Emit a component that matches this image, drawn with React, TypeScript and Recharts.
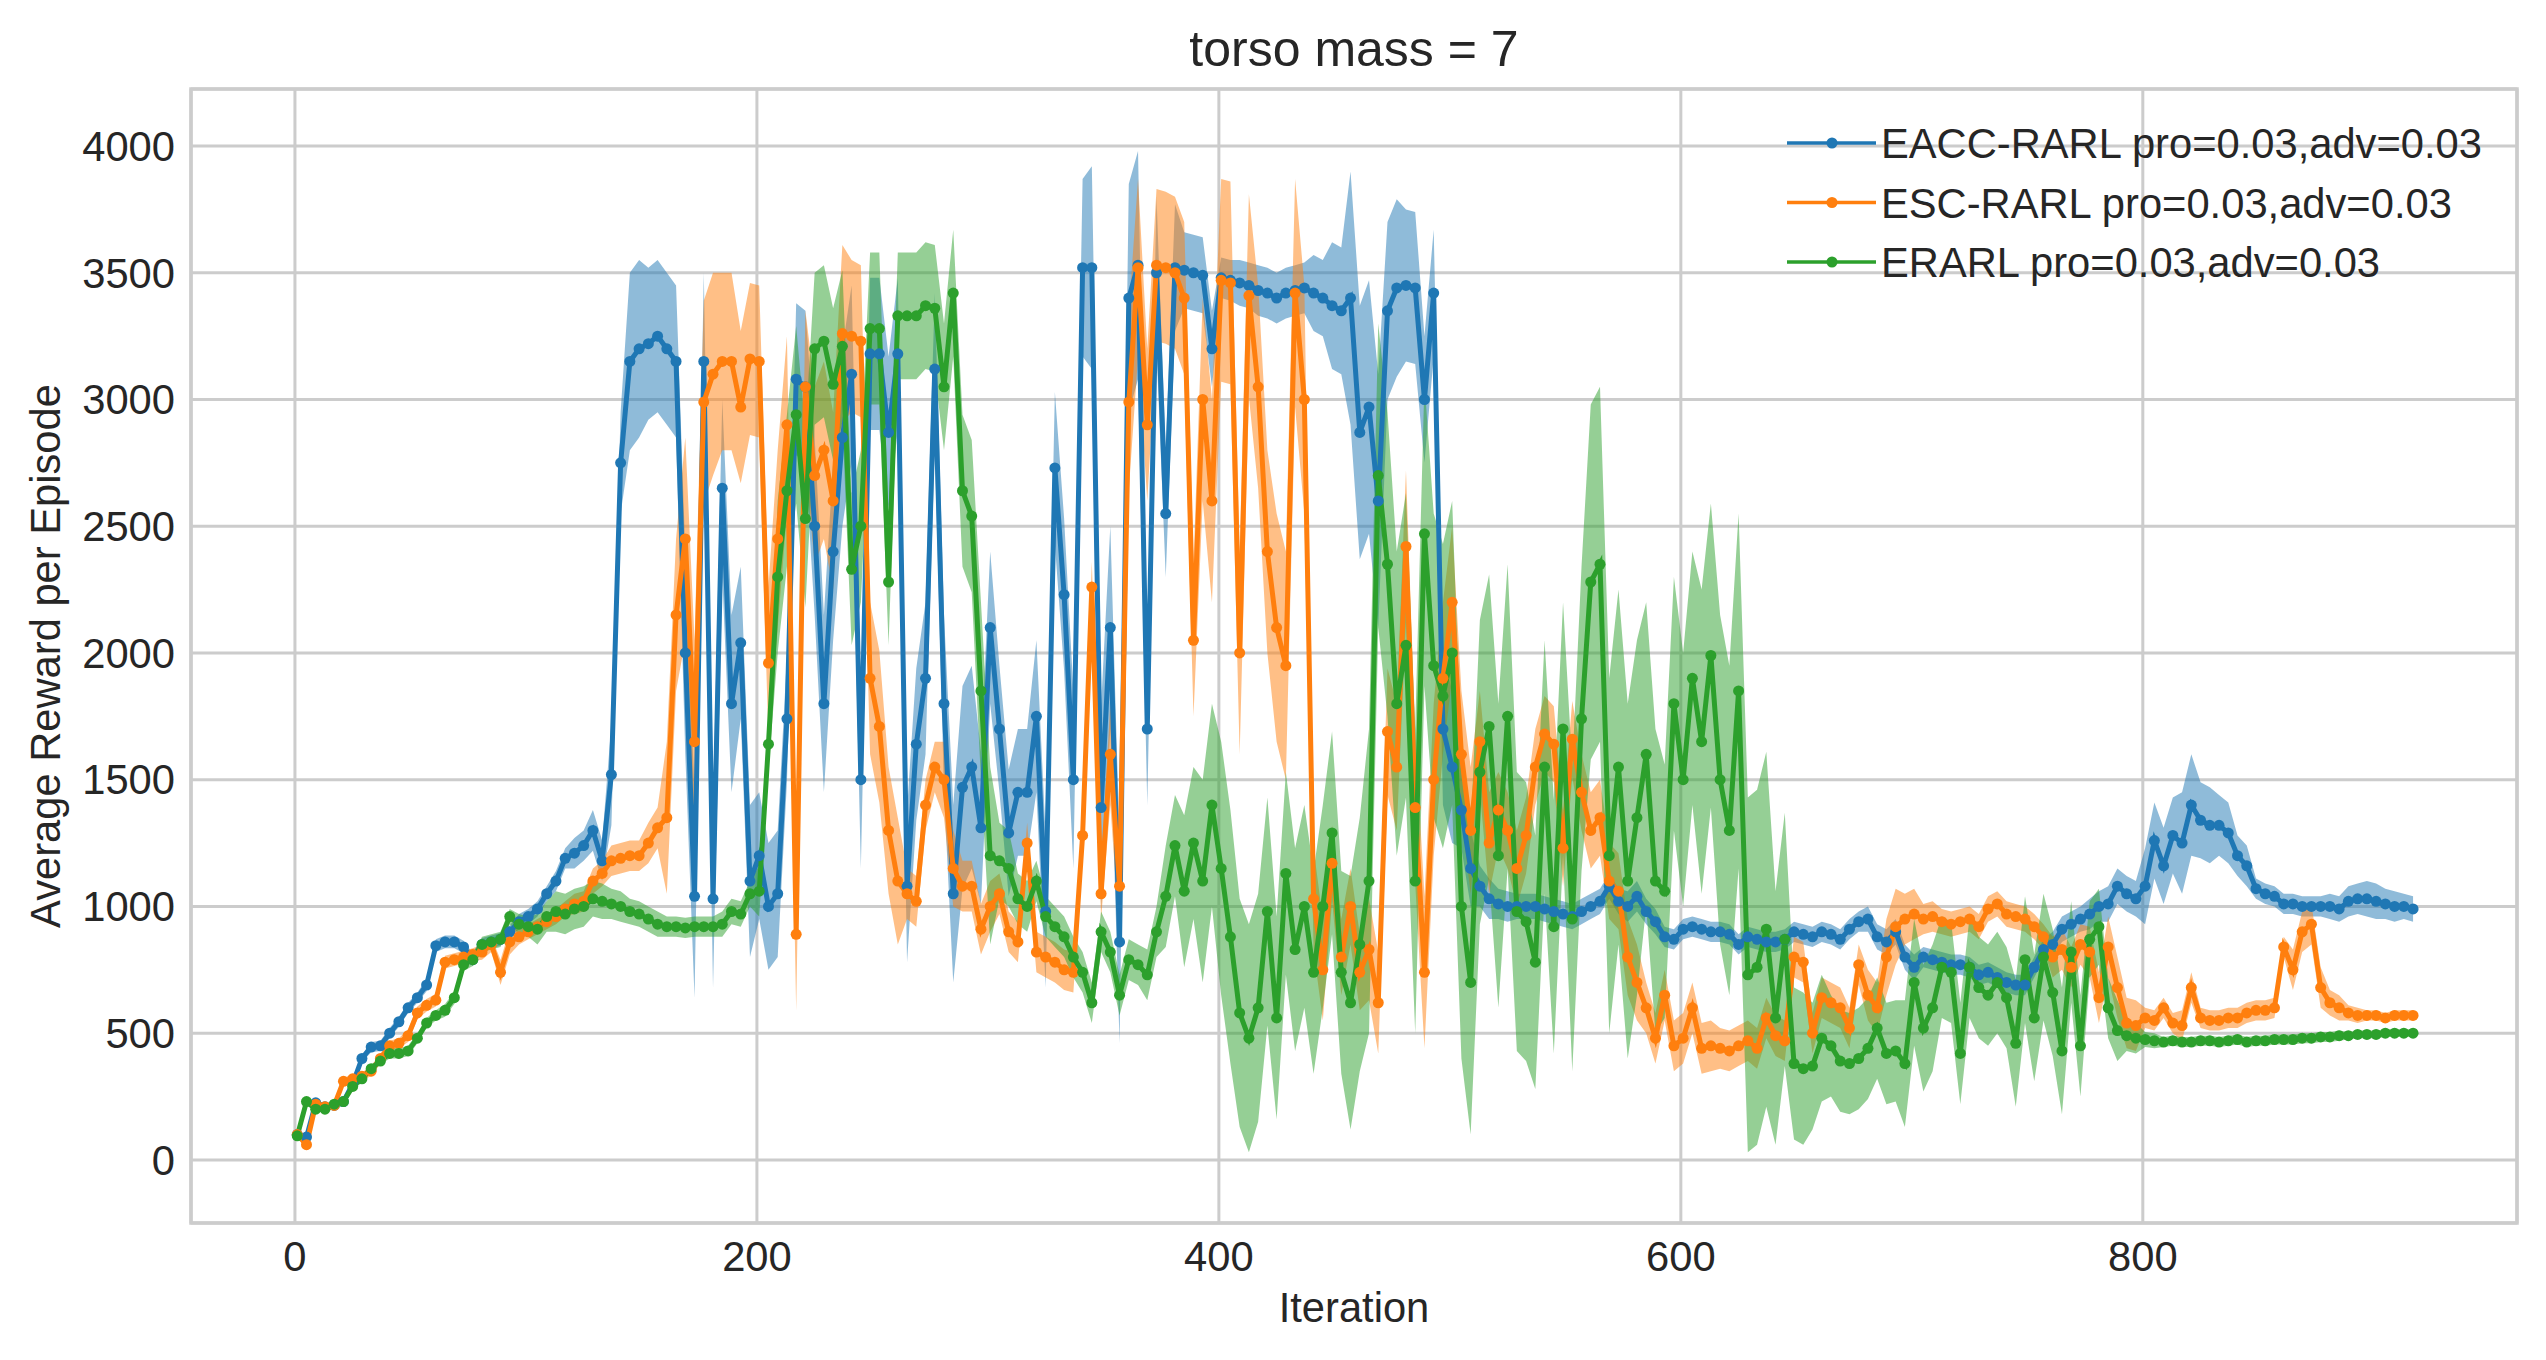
import React from 'react';
import { Area, CartesianGrid, ComposedChart, Line, ReferenceArea, XAxis, YAxis } from 'recharts';

// iterations sampled every 4 steps (1, 5, 9, ... 917)
const ITERATIONS = Array.from({ length: 230 }, (_, i) => 1 + 4 * i);

// EACC-RARL mean reward, one value per sampled iteration
const EACC = [
  100, 90, 225, 210, 215, 230, 300, 400, 445, 450,
  500, 545, 600, 640, 690, 845, 860, 860, 840, 790,
  850, 860, 870, 900, 940, 960, 990, 1050, 1100, 1190,
  1210, 1240, 1300, 1180, 1520, 2750, 3150, 3200, 3220, 3250,
  3200, 3150, 2000, 1040, 3150, 1030, 2650, 1800, 2040, 1100,
  1200, 1000, 1050, 1740, 3080, 3050, 2500, 1800, 2400, 2850,
  3100, 1500, 3180, 3180, 2870, 3180, 1080, 1640, 1900, 3120,
  1800, 1050, 1470, 1550, 1310, 2100, 1700, 1290, 1450, 1450,
  1750, 980, 2730, 2230, 1500, 3520, 3520, 1390, 2100, 860,
  3400, 3530, 1700, 3500, 2550, 3520, 3510, 3500, 3490, 3200,
  3480, 3470, 3460, 3450, 3430, 3420, 3400, 3420, 3430, 3440,
  3420, 3400, 3370, 3350, 3400, 2870, 2970, 2600, 3350, 3440,
  3450, 3440, 3000, 3420, 1700, 1550, 1380, 1150, 1080, 1030,
  1010, 1000, 1000, 1000, 1000, 990, 980, 970, 960, 980,
  1000, 1020, 1080, 1020, 1000, 1040, 980, 940, 880, 870,
  910, 920, 910, 900, 900, 890, 850, 880, 870, 860,
  860, 870, 900, 890, 880, 900, 890, 870, 910, 940,
  950, 880, 860, 900, 800, 760, 800, 790, 780, 770,
  770, 760, 730, 740, 720, 700, 690, 690, 760, 830,
  850, 910, 930, 950, 970, 1000, 1010, 1080, 1050, 1030,
  1080, 1260, 1160, 1280, 1250, 1400, 1340, 1320, 1320, 1290,
  1200, 1160, 1070, 1050, 1040, 1010, 1010, 1000, 1000, 1000,
  1000, 990, 1020, 1030, 1030, 1020, 1010, 1000, 1000, 990,
];

// ESC-RARL mean reward
const ESC = [
  100, 60, 220, 210, 215, 310, 320, 330, 350, 400,
  450, 460, 490, 580, 610, 630, 780, 790, 800, 810,
  820, 850, 740, 860, 880, 900, 920, 940, 960, 990,
  1010, 1020, 1100, 1130, 1180, 1190, 1200, 1200, 1250, 1310,
  1350, 2150, 2450, 1650, 2990, 3100, 3150, 3150, 2970, 3160,
  3150, 1960, 2450, 2900, 890, 3050, 2700, 2800, 2600, 3260,
  3250, 3230, 1900, 1710, 1300, 1100, 1050, 1020, 1400, 1550,
  1500, 1150, 1080, 1080, 910, 1000, 1050, 900, 860, 1250,
  820, 800, 780, 750, 740, 1280, 2260, 1050, 1600, 1080,
  2990, 3520, 2900, 3530, 3520, 3500, 3400, 2050, 3000, 2600,
  3470, 3460, 2000, 3410, 3050, 2400, 2100, 1950, 3420, 3000,
  1030, 750, 1170, 800, 1000, 740, 830, 620, 1690, 1550,
  2420, 1390, 740, 1500, 1900, 2200, 1600, 1300, 1650, 1250,
  1380, 1300, 1150, 1280, 1550, 1680, 1640, 1230, 1660, 1450,
  1300, 1350, 1100, 1060, 800, 700, 600, 480, 650, 450,
  480, 600, 440, 450, 440, 430, 450, 470, 440, 560,
  490, 470, 800, 780, 500, 640, 620, 600, 520, 770,
  650, 600, 800, 920, 950, 970, 950, 960, 940, 930,
  940, 950, 920, 990, 1010, 970, 960, 950, 920, 880,
  800, 830, 760, 850, 820, 640, 840, 680, 540, 530,
  560, 550, 600, 540, 530, 680, 560, 550, 550, 560,
  560, 580, 590, 590, 600, 840, 750, 900, 930, 680,
  620, 600, 580, 570, 570, 570, 560, 570, 570, 570,
];

// ERARL mean reward
const ERARL = [
  95, 230, 200, 200, 220, 230, 290, 320, 360, 390,
  420, 420, 430, 480, 540, 570, 590, 640, 770, 790,
  850, 860, 870, 960, 930, 920, 910, 960, 980, 970,
  990, 1000, 1030, 1020, 1010, 1000, 980, 970, 950, 930,
  920, 920, 915, 920, 920, 920, 930, 980, 970, 1050,
  1060, 1640, 2300, 2640, 2940, 2530, 3200, 3230, 3060, 3210,
  2330, 2500, 3280, 3280, 2280, 3330, 3330, 3330, 3370, 3360,
  3050, 3420, 2640, 2540, 1850, 1200, 1180, 1150, 1030, 1000,
  1100, 960, 920, 880, 800, 740, 620, 900, 820, 650,
  790, 770, 730, 900, 1040, 1240, 1060, 1250, 1100, 1400,
  1150, 880, 580, 480, 600, 980, 560, 1130, 830, 1000,
  740, 1000, 1290, 740, 620, 850, 1100, 2700, 2350, 1800,
  2030, 1100, 2470, 1950, 1830, 2000, 1000, 700, 1530, 1710,
  1200, 1750, 980, 940, 780, 1550, 920, 1700, 950, 1740,
  2280, 2350, 1200, 1550, 1100, 1350, 1600, 1100, 1060, 1800,
  1500, 1900, 1650, 1990, 1500, 1300, 1850, 730, 760, 910,
  560, 870, 380, 360, 370, 480, 450, 390, 380, 400,
  440, 520, 420, 430, 380, 700, 520, 600, 760, 740,
  420, 760, 680, 650, 700, 640, 460, 790, 560, 800,
  660, 430, 820, 450, 870, 920, 600, 510, 490, 480,
  475, 470, 465, 470, 465, 465, 470, 470, 465, 470,
  475, 465, 470, 470, 475, 475, 475, 480, 480, 485,
  485, 490, 490, 495, 495, 495, 500, 500, 500, 500,
];

// half-width of the shaded band, one value per 8 iterations
const EACC_SPREAD = [
  10, 10, 15, 15, 20, 20, 20, 25, 25, 25,
  25, 25, 30, 30, 40, 60, 80, 200, 350, 300,
  300, 400, 350, 350, 300, 250, 250, 300, 350, 350,
  350, 300, 300, 300, 300, 350, 400, 300, 250, 250,
  300, 300, 350, 400, 400, 450, 300, 250, 150, 150,
  80, 90, 100, 100, 100, 150, 250, 500, 500, 350,
  300, 250, 300, 150, 80, 60, 50, 50, 50, 50,
  50, 50, 60, 50, 40, 40, 40, 40, 40, 40,
  40, 40, 40, 40, 40, 50, 50, 50, 40, 40,
  40, 40, 40, 40, 40, 50, 50, 60, 70, 70,
  150, 150, 200, 150, 120, 80, 40, 40, 40, 40,
  50, 60, 70, 60, 50,
];

const ESC_SPREAD = [
  10, 10, 15, 15, 20, 20, 25, 25, 25, 25,
  30, 50, 30, 30, 30, 40, 50, 60, 60, 80,
  300, 400, 400, 350, 300, 300, 350, 300, 350, 350,
  300, 300, 250, 100, 100, 150, 100, 100, 80, 80,
  80, 80, 80, 100, 200, 350, 300, 300, 300, 400,
  400, 400, 400, 450, 450, 200, 150, 150, 200, 250,
  300, 300, 300, 250, 200, 150, 150, 150, 150, 150,
  150, 150, 150, 100, 100, 100, 100, 80, 80, 80,
  80, 80, 80, 80, 80, 100, 150, 100, 60, 50,
  50, 50, 50, 50, 50, 80, 80, 100, 120, 100,
  40, 40, 60, 40, 40, 40, 40, 40, 80, 80,
  50, 30, 20, 20, 20,
];

const ERARL_SPREAD = [
  10, 10, 15, 15, 15, 20, 20, 20, 25, 25,
  30, 30, 40, 60, 80, 80, 70, 60, 50, 50,
  40, 40, 40, 50, 50, 100, 300, 350, 300, 300,
  300, 300, 250, 250, 250, 250, 300, 350, 150, 100,
  80, 80, 80, 80, 80, 80, 100, 200, 300, 400,
  500, 450, 450, 400, 400, 400, 400, 500, 600, 600,
  600, 600, 600, 600, 600, 600, 550, 500, 500, 600,
  700, 700, 700, 600, 500, 500, 600, 650, 700, 700,
  500, 300, 250, 200, 200, 200, 200, 250, 250, 200,
  200, 200, 200, 250, 250, 250, 200, 150, 120, 60,
  30, 20, 20, 20, 20, 20, 20, 20, 20, 20,
  20, 15, 15, 15, 15,
];

const X_TICKS = [0, 200, 400, 600, 800];
const Y_TICKS = [0, 500, 1000, 1500, 2000, 2500, 3000, 3500, 4000];
const X_DOMAIN: [number, number] = [-45, 962];
const Y_DOMAIN: [number, number] = [-249, 4225];

const SERIES = [
  { key: 'e', label: 'EACC-RARL pro=0.03,adv=0.03', color: '#1f77b4' },
  { key: 's', label: 'ESC-RARL pro=0.03,adv=0.03', color: '#ff7f0e' },
  { key: 'r', label: 'ERARL pro=0.03,adv=0.03', color: '#2ca02c' },
];

const band = (v: number, spread: number[], i: number) => {
  const s = spread[Math.floor(i / 2)] ?? 0;
  return [v - s, v + s];
};

const data = ITERATIONS.map((x, i) => ({
  x,
  e: EACC[i],
  eBand: band(EACC[i], EACC_SPREAD, i),
  s: ESC[i],
  sBand: band(ESC[i], ESC_SPREAD, i),
  r: ERARL[i],
  rBand: band(ERARL[i], ERARL_SPREAD, i),
}));

const FONT = '"Liberation Sans", Arial, Helvetica, sans-serif';
const TEXT = '#262626';
const GRID = '#cccccc';

export default function App() {
  return (
    <div
      style={{
        position: 'absolute',
        left: 0,
        top: 0,
        width: 2546,
        height: 1360,
        background: '#fff',
        fontFamily: FONT,
      }}
    >
      <ComposedChart
        width={2546}
        height={1360}
        data={data}
        margin={{ top: 89, right: 29, bottom: 67, left: 0 }}
      >
        <CartesianGrid stroke={GRID} strokeWidth={3} />
        <XAxis
          type="number"
          dataKey="x"
          domain={X_DOMAIN}
          ticks={X_TICKS}
          allowDataOverflow
          axisLine={false}
          tickLine={false}
          tickSize={0}
          tickMargin={18}
          height={70}
          tick={{ fill: TEXT, fontSize: 41.7, fontFamily: FONT }}
        />
        <YAxis
          type="number"
          domain={Y_DOMAIN}
          ticks={Y_TICKS}
          allowDataOverflow
          axisLine={false}
          tickLine={false}
          tickSize={0}
          tickMargin={16}
          width={191}
          tick={{ fill: TEXT, fontSize: 41.7, fontFamily: FONT }}
        />
        {SERIES.map((s) => (
          <Area
            key={s.key + 'Band'}
            type="linear"
            dataKey={s.key + 'Band'}
            stroke="none"
            fill={s.color}
            fillOpacity={0.5}
            isAnimationActive={false}
            activeDot={false}
          />
        ))}
        {SERIES.map((s) => (
          <Line
            key={s.key}
            type="linear"
            dataKey={s.key}
            stroke={s.color}
            strokeWidth={5}
            dot={{ r: 5.5, fill: s.color, stroke: s.color, strokeWidth: 0 }}
            activeDot={false}
            isAnimationActive={false}
          />
        ))}
        <ReferenceArea
          x1={X_DOMAIN[0]}
          x2={X_DOMAIN[1]}
          y1={Y_DOMAIN[0]}
          y2={Y_DOMAIN[1]}
          fill="none"
          stroke={GRID}
          strokeWidth={3.5}
          ifOverflow="visible"
        />
      </ComposedChart>
      <svg
        width={2546}
        height={1360}
        style={{ position: 'absolute', left: 0, top: 0, pointerEvents: 'none' }}
        fontFamily={FONT}
      >
        <text x={1354} y={66} textAnchor="middle" fontSize={50} fill={TEXT}>
          torso mass = 7
        </text>
        <text x={1354} y={1322} textAnchor="middle" fontSize={41.7} fill={TEXT}>
          Iteration
        </text>
        <text
          transform="translate(60,656) rotate(-90)"
          textAnchor="middle"
          fontSize={41.7}
          fill={TEXT}
        >
          Average Reward per Episode
        </text>
        {SERIES.map((s, i) => {
          const y = 143 + i * 59.5;
          return (
            <g key={s.key}>
              <line x1={1787} x2={1876} y1={y} y2={y} stroke={s.color} strokeWidth={3.5} />
              <circle cx={1832} cy={y} r={5.5} fill={s.color} />
              <text x={1881} y={y + 15} fontSize={41.7} fill={TEXT}>
                {s.label}
              </text>
            </g>
          );
        })}
      </svg>
    </div>
  );
}
